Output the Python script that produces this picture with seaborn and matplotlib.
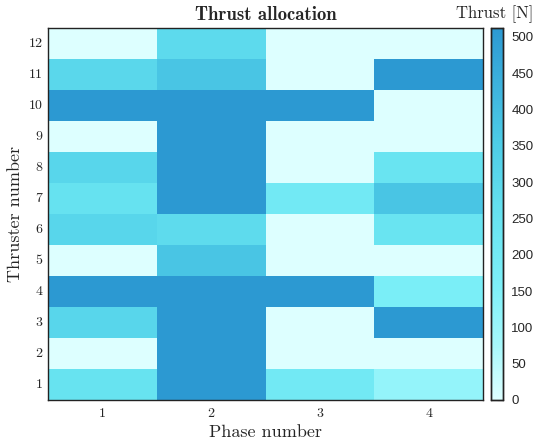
import numpy as np
import pandas as pd
import matplotlib
matplotlib.use("Agg")
import matplotlib.pyplot as plt
from matplotlib.colors import LinearSegmentedColormap
import seaborn as sns

# Thrust per thruster (1..12) in each operating phase, in newtons
phases = [1, 2, 3, 4]
thrusters = list(range(1, 13))
phase1 = [250, 0, 310, 510, 0, 310, 255, 310, 0, 510, 305, 0]
phase2 = [510, 510, 510, 510, 375, 287, 510, 510, 510, 510, 375, 290]
phase3 = [205, 0, 0, 510, 0, 0, 205, 0, 0, 510, 0, 0]
phase4 = [110, 0, 510, 170, 0, 245, 375, 245, 0, 0, 510, 0]
cbar_ticks = list(range(0, 501, 50))

sns.set_style("white")
plt.rcParams["axes.formatter.use_mathtext"] = True

df = pd.DataFrame({1: phase1, 2: phase2, 3: phase3, 4: phase4}, index=thrusters)
df = df.loc[thrusters[::-1]]

cmap = LinearSegmentedColormap.from_list(
    "thrust",
    [(0.0, "#ddffff"), (0.15, "#a6f8fb"), (0.3, "#7ef0f8"), (0.5, "#66e2f0"),
     (0.7, "#4ccbe6"), (0.85, "#3db2dd"), (1.0, "#2c99d2")],
)

fig = plt.figure(figsize=(5.34, 4.42), dpi=100)
W, H = 534, 442
ax = fig.add_axes([48 / W, 1 - 400 / H, (483 - 48) / W, (400 - 28) / H])
cax = fig.add_axes([491 / W, 1 - 400 / H, 12 / W, (400 - 28) / H])

sns.heatmap(df, ax=ax, cbar_ax=cax, cmap=cmap, vmin=0, vmax=512,
            linewidths=0, rasterized=True)

serif = "cmr10"
for s in ax.spines.values():
    s.set_visible(True)
    s.set_color("#222222")
    s.set_linewidth(1.0)
ax.tick_params(direction="in", top=True, right=True, length=4, width=0.8,
               color="#555555", pad=4)
ax.set_xticks(np.arange(len(phases)) + 0.5)
ax.set_xticklabels([str(p) for p in phases], rotation=0, fontfamily=serif, fontsize=10)
ax.set_yticks(np.arange(len(thrusters)) + 0.5)
ax.set_yticklabels([str(t) for t in thrusters[::-1]], rotation=0,
                   fontfamily=serif, fontsize=10)
ax.tick_params(axis="x", pad=6)
ax.set_xlabel("Phase number", fontfamily=serif, fontsize=13, labelpad=3)
ax.set_ylabel("Thruster number", fontfamily=serif, fontsize=13, labelpad=4)
ax.set_title("Thrust allocation", fontfamily="cmb10", fontsize=13.5, pad=6)

cax.set_yticks(cbar_ticks)
cax.set_yticklabels([str(t) for t in cbar_ticks], fontfamily="Liberation Sans", fontsize=9.5)
cax.tick_params(direction="in", length=4, width=0.8, color="#555555", pad=6)
for s in cax.spines.values():
    s.set_visible(True)
    s.set_color("#222222")
    s.set_linewidth(1.0)
fig.text(533 / W, 1 - 14 / H, "Thrust [N]", fontfamily=serif, fontsize=12,
         ha="right", va="center")

fig.savefig("out.png", dpi=100)
